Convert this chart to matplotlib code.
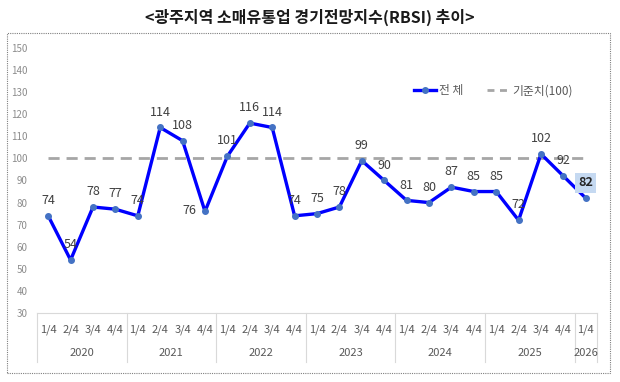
import matplotlib
matplotlib.use('Agg')
import matplotlib.pyplot as plt
import matplotlib.patches as patches
from matplotlib.lines import Line2D
import numpy as np

plt.rcParams['font.family'] = ['Noto Sans CJK KR', 'DejaVu Sans']

# data
years = ['2020', '2021', '2022', '2023', '2024', '2025', '2026']
quarters = ['1/4', '2/4', '3/4', '4/4'] * 6 + ['1/4']
rbsi = [74, 54, 78, 77, 74, 114, 108, 76, 101, 116, 114, 74,
        75, 78, 99, 90, 81, 80, 87, 85, 85, 72, 102, 92, 82]
base = 100

n = len(rbsi)
x = np.arange(n)

fig = plt.figure(figsize=(6.2, 3.82), dpi=100)
ax = fig.add_axes([37/620, 1-313/382, 560/620, 265/382])

# outer dotted frame
frame = patches.Rectangle((7/620, 1-373/382), 603/620, 340/382, transform=fig.transFigure,
                          fill=False, edgecolor='#808080', linestyle=(0, (1, 1)), linewidth=0.8)
fig.patches.append(frame)

fig.text(0.5, 1-17/382, '<광주지역 소매유통업 경기전망지수(RBSI) 추이>', ha='center', va='center',
         fontsize=11.5, fontweight='bold', color='#1a1a1a')

ax.plot([x[0], x[-1]], [base, base], color='#A6A6A6', linewidth=2, dashes=(4, 2.5), zorder=2)
ax.plot(x, rbsi, color='#0000FF', linewidth=2.4, marker='o', markersize=4,
        markerfacecolor='#4472C4', markeredgecolor='#4472C4', zorder=3)

for i, v in enumerate(rbsi):
    if i == 7:
        ax.annotate(str(v), (i, v), xytext=(-11, 1), textcoords='offset points',
                    ha='center', va='center', fontsize=9, color='#404040')
    elif i == n - 1:
        ax.annotate(str(v), (i, v), xytext=(0, 11), textcoords='offset points',
                    ha='center', va='center', fontsize=9, color='#262626', fontweight='bold',
                    bbox=dict(boxstyle='square,pad=0.25', facecolor='#C5D9F1', edgecolor='none'))
    else:
        ax.annotate(str(v), (i, v), xytext=(0, 11), textcoords='offset points',
                    ha='center', va='center', fontsize=9, color='#404040')

ax.set_xlim(-0.5, n - 0.5)
ax.set_ylim(30, 150)
ax.set_yticks(np.arange(30, 151, 10))
ax.tick_params(axis='y', length=0, labelsize=7, labelcolor='#8C8C8C', pad=7)
ax.set_xticks([])
for s in ['top', 'right', 'left']:
    ax.spines[s].set_visible(False)
ax.spines['bottom'].set_color('#D9D9D9')
ax.spines['bottom'].set_linewidth(0.8)

# category axis: quarters, year groups and separators
for i, q in enumerate(quarters):
    ax.text(i, -0.065, q, transform=ax.get_xaxis_transform(), ha='center', va='center',
            fontsize=8, color='#595959')
edges = [-0.5]
for k, yr in enumerate(years):
    start = k * 4
    stop = min(start + 4, n)
    ax.text((start + stop - 1) / 2, -0.15, yr, transform=ax.get_xaxis_transform(),
            ha='center', va='center', fontsize=8, color='#595959')
    edges.append(stop - 0.5)
for e in edges:
    ax.plot([e, e], [0, -0.185], transform=ax.get_xaxis_transform(), color='#D9D9D9',
            linewidth=0.8, clip_on=False)

handles = [Line2D([0], [0], color='#0000FF', linewidth=2.4, marker='o', markersize=4,
                  markerfacecolor='#4472C4', markeredgecolor='#4472C4'),
           Line2D([0], [0], color='#A6A6A6', linewidth=2, dashes=(2.5, 2))]
leg = ax.legend(handles, ['전 체', '기준치(100)'], loc='center left', bbox_to_anchor=(0.655, 0.838),
                ncol=2, frameon=False, fontsize=8.5, handlelength=1.8, columnspacing=2.0,
                handletextpad=0.3)
for t in leg.get_texts():
    t.set_color('#595959')

plt.savefig('out.png', dpi=100)
